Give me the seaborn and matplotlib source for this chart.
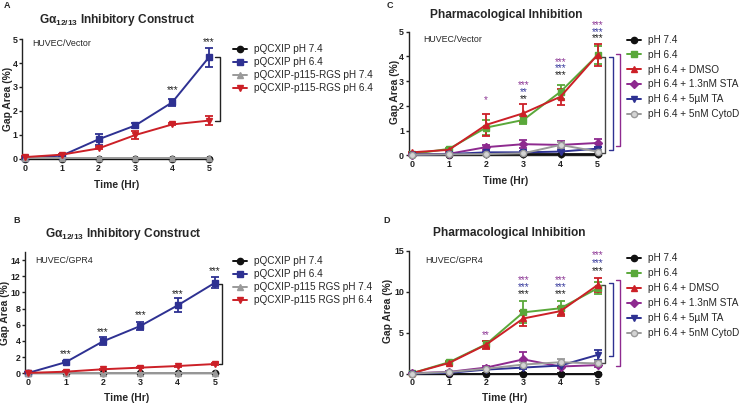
import matplotlib
matplotlib.use("Agg")
import matplotlib.pyplot as plt
import seaborn as sns

sns.set_style("ticks")
plt.rcParams["font.family"] = ["Liberation Sans", "DejaVu Sans"]
plt.rcParams["mathtext.fontset"] = "custom"
plt.rcParams["mathtext.rm"] = "Liberation Sans"
plt.rcParams["mathtext.bf"] = "Liberation Sans:bold"

# time points (hours)
times = [0, 1, 2, 3, 4, 5]

# Panel A - HUVEC/Vector, G alpha 12/13 inhibitory construct
a_ctrl74 = [0.02, 0.02, 0.02, 0.02, 0.02, 0.02]
a_ctrl74_err = [0.01, 0.01, 0.01, 0.01, 0.01, 0.01]
a_ctrl64 = [0.06, 0.14, 0.82, 1.40, 2.36, 4.24]
a_ctrl64_err = [0.03, 0.03, 0.24, 0.10, 0.15, 0.40]
a_rgs74 = [0.03, 0.03, 0.03, 0.03, 0.03, 0.03]
a_rgs74_err = [0.01, 0.01, 0.01, 0.01, 0.01, 0.01]
a_rgs64 = [0.08, 0.18, 0.44, 1.00, 1.44, 1.60]
a_rgs64_err = [0.03, 0.04, 0.04, 0.15, 0.04, 0.20]
a_stars = {4: 2.87, 5: 4.89}

# Panel B - HUVEC/GPR4
b_ctrl74 = [0.02, 0.02, 0.02, 0.02, 0.02, 0.02]
b_ctrl74_err = [0.01, 0.01, 0.01, 0.01, 0.01, 0.01]
b_ctrl64 = [0.05, 1.37, 3.95, 5.85, 8.40, 11.20]
b_ctrl64_err = [0.05, 0.12, 0.50, 0.55, 0.85, 0.65]
b_rgs74 = [0.03, 0.03, 0.03, 0.03, 0.03, 0.03]
b_rgs74_err = [0.01, 0.01, 0.01, 0.01, 0.01, 0.01]
b_rgs64 = [0.05, 0.20, 0.50, 0.70, 0.90, 1.15]
b_rgs64_err = [0.03, 0.05, 0.05, 0.06, 0.06, 0.07]
b_stars = {1: 2.4, 2: 5.07, 3: 7.15, 4: 9.85, 5: 12.7}

# Panel C - HUVEC/Vector, pharmacological inhibition
c_ph74 = [0.02, 0.03, 0.04, 0.05, 0.05, 0.05]
c_ph74_err = [0.01, 0.01, 0.01, 0.01, 0.01, 0.01]
c_ph64 = [0.05, 0.26, 1.12, 1.43, 2.57, 4.06]
c_ph64_err = [0.02, 0.04, 0.30, 0.15, 0.28, 0.35]
c_dmso = [0.12, 0.22, 1.23, 1.70, 2.37, 4.07]
c_dmso_err = [0.02, 0.03, 0.45, 0.36, 0.33, 0.45]
c_sta = [0.03, 0.06, 0.33, 0.45, 0.42, 0.50]
c_sta_err = [0.01, 0.02, 0.10, 0.17, 0.14, 0.17]
c_ta = [0.02, 0.05, 0.12, 0.12, 0.15, 0.27]
c_ta_err = [0.01, 0.01, 0.03, 0.04, 0.08, 0.06]
c_cyto = [0.02, 0.04, 0.05, 0.08, 0.42, 0.15]
c_cyto_err = [0.01, 0.01, 0.02, 0.04, 0.12, 0.05]
# significance rows: purple (STA), navy (TA), black (CytoD)
c_stars = [
    (2, 2.24, "*", "#8e3a96"),
    (3, 2.84, "***", "#8e3a96"), (3, 2.57, "**", "#3a3d9e"), (3, 2.28, "**", "#222222"),
    (4, 3.79, "***", "#8e3a96"), (4, 3.52, "***", "#3a3d9e"), (4, 3.25, "***", "#222222"),
    (5, 5.27, "***", "#8e3a96"), (5, 5.00, "***", "#3a3d9e"), (5, 4.73, "***", "#222222"),
]

# Panel D - HUVEC/GPR4, pharmacological inhibition
d_ph74 = [0.02, 0.02, 0.02, 0.02, 0.02, 0.02]
d_ph74_err = [0.01, 0.01, 0.01, 0.01, 0.01, 0.01]
d_ph64 = [0.05, 1.40, 3.60, 7.50, 8.00, 10.45]
d_ph64_err = [0.03, 0.12, 0.45, 1.35, 0.85, 0.70]
d_dmso = [0.05, 1.30, 3.55, 6.75, 7.65, 10.85]
d_dmso_err = [0.03, 0.10, 0.50, 0.90, 0.55, 0.85]
d_sta = [0.05, 0.22, 0.75, 1.75, 0.88, 1.05]
d_sta_err = [0.02, 0.05, 0.15, 0.85, 0.20, 0.20]
d_ta = [0.02, 0.10, 0.50, 0.75, 1.00, 2.30]
d_ta_err = [0.01, 0.03, 0.10, 0.15, 0.15, 0.65]
d_cyto = [0.02, 0.20, 0.60, 1.12, 1.40, 1.25]
d_cyto_err = [0.01, 0.05, 0.10, 0.30, 0.35, 0.30]
d_stars = [
    (2, 4.73, "**", "#8e3a96"),
    (3, 11.5, "***", "#8e3a96"), (3, 10.55, "***", "#3a3d9e"), (3, 9.7, "***", "#222222"),
    (4, 11.5, "***", "#8e3a96"), (4, 10.55, "***", "#3a3d9e"), (4, 9.7, "***", "#222222"),
    (5, 14.5, "***", "#8e3a96"), (5, 13.5, "***", "#3a3d9e"), (5, 12.55, "***", "#222222"),
]

BLACK = "#111111"
NAVY = "#2e3192"
GREY = "#9a9a9a"
RED = "#cc2027"
GREEN = "#5aa83a"
PURPLE = "#8e2a8f"

construct_labels_a = ["pQCXIP pH 7.4", "pQCXIP pH 6.4",
                      "pQCXIP-p115-RGS pH 7.4", "pQCXIP-p115-RGS pH 6.4"]
construct_labels_b = ["pQCXIP pH 7.4", "pQCXIP pH 6.4",
                      "pQCXIP-p115 RGS pH 7.4", "pQCXIP-p115 RGS pH 6.4"]
drug_labels = ["pH 7.4", "pH 6.4", "pH 6.4 + DMSO", "pH 6.4 + 1.3nM STA",
               "pH 6.4 + 5\u00b5M TA", "pH 6.4 + 5nM CytoD"]

construct_styles = [(BLACK, "o", BLACK), (NAVY, "s", NAVY), (GREY, "^", GREY), (RED, "v", RED)]
drug_styles = [(BLACK, "o", BLACK), (GREEN, "s", GREEN), (RED, "^", RED),
               (PURPLE, "D", PURPLE), (NAVY, "v", NAVY), (GREY, "o", "#d4d4d4")]

W, H = 740, 404
fig = plt.figure(figsize=(7.4, 4.04), dpi=100)

XLO, XHI = -0.08, 5.08


def make_axes(x0, x5, y0, ytop, ymax):
    # pixel positions of x=0, x=5, y=0, y=ymax -> figure rect
    ppx = (x5 - x0) / 5.0
    left = x0 + XLO * ppx
    right = x0 + XHI * ppx
    ax = fig.add_axes([left / W, 1 - y0 / H, (right - left) / W, (y0 - ytop) / H])
    ax.set_xlim(XLO, XHI)
    ax.set_ylim(0, ymax)
    return ax


def draw_series(ax, series, errs, labels, styles):
    for vals, err, lab, (col, mk, face) in zip(series, errs, labels, styles):
        ax.errorbar(times, vals, yerr=err, fmt="none", ecolor=col, elinewidth=1.3,
                    capsize=2.6, capthick=1.3, clip_on=False, zorder=3)
        sns.lineplot(x=times, y=vals, ax=ax, color=col, marker=mk,
                     markersize=4.5 if mk != "D" else 3.8,
                     mec=col, mfc=face, mew=1.0, linewidth=1.4, label=lab,
                     clip_on=False, zorder=4, errorbar=None)


def style_axes(ax, yticks, xlabel_xy, ylabel_xy):
    sns.despine(ax=ax)
    for s in ["left", "bottom"]:
        ax.spines[s].set_linewidth(1.0)
        ax.spines[s].set_color("#222222")
    ax.set_xticks(times)
    ax.set_yticks(yticks)
    ax.tick_params(length=2.4, width=1.0, pad=1.0, labelsize=6.4, colors="#222222")
    for t in ax.get_xticklabels() + ax.get_yticklabels():
        t.set_fontweight("bold")
    ax.set_xlabel("Time (Hr)", fontsize=7.4, fontweight="bold")
    ax.set_ylabel("Gap Area (%)", fontsize=7.4, fontweight="bold")
    ax.xaxis.set_label_coords(xlabel_xy[0] / W, 1 - xlabel_xy[1] / H, transform=fig.transFigure)
    ax.yaxis.set_label_coords(ylabel_xy[0] / W, 1 - ylabel_xy[1] / H, transform=fig.transFigure)


def bracket(ax, x, xs, y1, y2, color):
    ax.plot([x - xs, x, x, x - xs], [y1, y1, y2, y2], color=color, lw=1.0,
            clip_on=False, zorder=2)


def add_legend(ax, x, y, spacing):
    ax.legend(loc="upper left", bbox_to_anchor=(x / W, 1 - y / H),
              bbox_transform=fig.transFigure, frameon=False, fontsize=7.2,
              handlelength=1.35, handletextpad=0.75, labelspacing=spacing,
              borderpad=0, borderaxespad=0)


# ---- A ----
axA = make_axes(25, 209, 159, 39, 5)
draw_series(axA, [a_ctrl74, a_ctrl64, a_rgs74, a_rgs64],
            [a_ctrl74_err, a_ctrl64_err, a_rgs74_err, a_rgs64_err],
            construct_labels_a, construct_styles)
style_axes(axA, [0, 1, 2, 3, 4, 5], (117, 180), (13.5, 99))
for t, y in a_stars.items():
    axA.text(t, y, "***", ha="center", va="center", fontsize=7.2, color="#222222")
bracket(axA, 5.3, 0.13, 4.24, 1.58, "#222222")
axA.text(0.19, 4.8, "HUVEC/Vector", fontsize=6.4, va="center", ha="left")
add_legend(axA, 233, 44, 0.3)

# ---- B ----
axB = make_axes(28.3, 215, 373.3, 252, 15)
draw_series(axB, [b_ctrl74, b_ctrl64, b_rgs74, b_rgs64],
            [b_ctrl74_err, b_ctrl64_err, b_rgs74_err, b_rgs64_err],
            construct_labels_b, construct_styles)
style_axes(axB, [0, 2, 4, 6, 8, 10, 12, 14], (127, 393), (10, 313))
for t, y in b_stars.items():
    axB.text(t, y, "***", ha="center", va="center", fontsize=7.2, color="#222222")
bracket(axB, 5.2, 0.1, 11.0, 1.2, "#222222")
axB.text(0.18, 14.0, "HUVEC/GPR4", fontsize=6.4, va="center", ha="left")
add_legend(axB, 233, 256, 0.3)

# ---- C ----
axC = make_axes(411.7, 597.7, 155.3, 31.7, 5)
draw_series(axC, [c_ph74, c_ph64, c_dmso, c_sta, c_ta, c_cyto],
            [c_ph74_err, c_ph64_err, c_dmso_err, c_sta_err, c_ta_err, c_cyto_err],
            drug_labels, drug_styles)
style_axes(axC, [0, 1, 2, 3, 4, 5], (506, 176), (399.5, 92))
for t, y, s, col in c_stars:
    axC.text(t, y, s, ha="center", va="center", fontsize=7.2, color=col)
bracket(axC, 5.2, 0.12, 3.99, 0.08, "#444444")
bracket(axC, 5.42, 0.12, 3.99, 0.21, NAVY)
bracket(axC, 5.61, 0.11, 4.08, 0.38, PURPLE)
axC.text(0.3, 4.67, "HUVEC/Vector", fontsize=6.4, va="center", ha="left")
add_legend(axC, 627, 35, 0.48)

# ---- D ----
axD = make_axes(411.7, 597.7, 373.7, 251, 15)
draw_series(axD, [d_ph74, d_ph64, d_dmso, d_sta, d_ta, d_cyto],
            [d_ph74_err, d_ph64_err, d_dmso_err, d_sta_err, d_ta_err, d_cyto_err],
            drug_labels, drug_styles)
style_axes(axD, [0, 5, 10, 15], (505, 393), (393.5, 311))
for t, y, s, col in d_stars:
    axD.text(t, y, s, ha="center", va="center", fontsize=7.2, color=col)
bracket(axD, 5.2, 0.12, 10.84, 1.26, "#444444")
bracket(axD, 5.42, 0.12, 11.1, 2.16, NAVY)
bracket(axD, 5.61, 0.11, 11.45, 0.94, PURPLE)
axD.text(0.36, 13.8, "HUVEC/GPR4", fontsize=6.4, va="center", ha="left")
add_legend(axD, 627, 253, 0.5)

# titles and panel letters
title_a = "G\u03b1$_{\\mathbf{12/13}}$ Inhibitory Construct"
fig.text(117 / W, 1 - 23.3 / H, title_a, ha="center", va="baseline", fontsize=8.6, fontweight="bold")
fig.text(123.7 / W, 1 - 237.3 / H, title_a, ha="center", va="baseline", fontsize=8.6, fontweight="bold")
fig.text(506 / W, 1 - 17.7 / H, "Pharmacological Inhibition", ha="center", va="baseline",
         fontsize=8.6, fontweight="bold")
fig.text(509 / W, 1 - 236 / H, "Pharmacological Inhibition", ha="center", va="baseline",
         fontsize=8.6, fontweight="bold")
for letter, x, y in [("A", 3.3, 7.7), ("B", 13, 222.7), ("C", 387, 8.3), ("D", 383, 222.7)]:
    fig.text(x / W, 1 - y / H, letter, ha="left", va="baseline", fontsize=6.5, fontweight="bold")

fig.savefig("out.png", dpi=100)
